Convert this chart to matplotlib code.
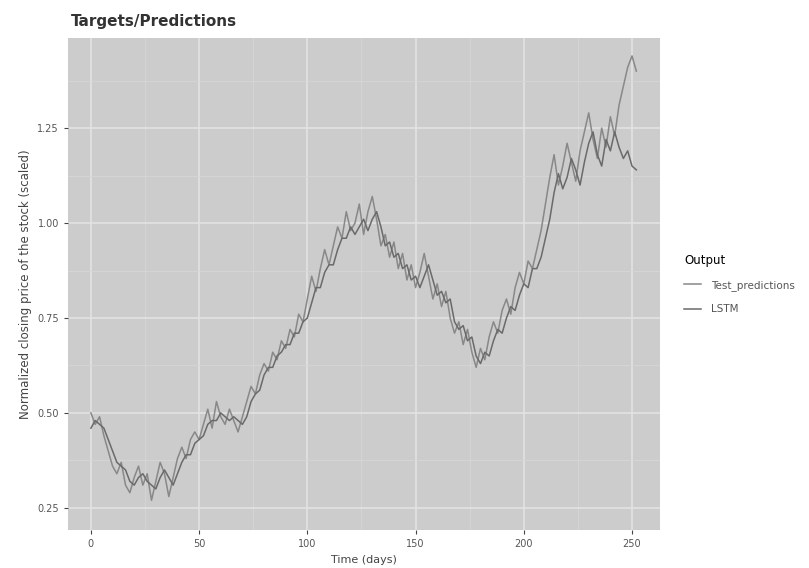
import matplotlib.pyplot as plt
import numpy as np

# ----------------------------------------
# Data
# ----------------------------------------
day = list(range(0, 253, 2))

target = [0.50, 0.47, 0.49, 0.44, 0.40, 0.36,
          0.34, 0.37, 0.31, 0.29, 0.33,
          0.36, 0.31, 0.34, 0.27, 0.32,
          0.37, 0.34, 0.28, 0.33, 0.38,
          0.41, 0.38, 0.43, 0.45, 0.43,
          0.47, 0.51, 0.46, 0.53, 0.49,
          0.47, 0.51, 0.48, 0.45, 0.49,
          0.53, 0.57, 0.55, 0.60, 0.63,
          0.61, 0.66, 0.64, 0.69, 0.67,
          0.72, 0.70, 0.76, 0.74, 0.80,
          0.86, 0.82, 0.88, 0.93, 0.89,
          0.94, 0.99, 0.96, 1.03, 0.98,
          1.00, 1.05, 0.97, 1.03, 1.07,
          1.01, 0.94, 0.97, 0.91, 0.95,
          0.88, 0.92, 0.85, 0.89, 0.83,
          0.87, 0.92, 0.86, 0.80, 0.84,
          0.78, 0.82, 0.75, 0.71, 0.74,
          0.68, 0.72, 0.66, 0.62, 0.67,
          0.64, 0.70, 0.74, 0.71, 0.77,
          0.80, 0.76, 0.83, 0.87, 0.84,
          0.90, 0.88, 0.93, 0.98, 1.05,
          1.12, 1.18, 1.10, 1.15, 1.21,
          1.16, 1.11, 1.19, 1.24, 1.29,
          1.22, 1.17, 1.25, 1.20, 1.28,
          1.23, 1.31, 1.36, 1.41, 1.44,
          1.40]

lstm = [0.46, 0.48, 0.47, 0.46, 0.43, 0.40,
        0.37, 0.36, 0.35, 0.32, 0.31,
        0.33, 0.34, 0.32, 0.31, 0.30,
        0.33, 0.35, 0.33, 0.31, 0.34,
        0.37, 0.39, 0.39, 0.42, 0.43,
        0.44, 0.47, 0.48, 0.48, 0.50,
        0.49, 0.48, 0.49, 0.48, 0.47,
        0.49, 0.53, 0.55, 0.56, 0.60,
        0.62, 0.62, 0.65, 0.66, 0.68,
        0.68, 0.71, 0.71, 0.74, 0.75,
        0.79, 0.83, 0.83, 0.87, 0.89,
        0.89, 0.93, 0.96, 0.96, 0.99,
        0.97, 0.99, 1.01, 0.98, 1.01,
        1.03, 0.99, 0.94, 0.95, 0.91,
        0.92, 0.88, 0.89, 0.85, 0.86,
        0.83, 0.86, 0.89, 0.85, 0.81,
        0.82, 0.79, 0.80, 0.74, 0.72,
        0.73, 0.69, 0.70, 0.65, 0.63,
        0.66, 0.65, 0.69, 0.72, 0.71,
        0.75, 0.78, 0.77, 0.81, 0.84,
        0.83, 0.88, 0.88, 0.91, 0.96,
        1.01, 1.08, 1.13, 1.09, 1.12,
        1.17, 1.14, 1.10, 1.16, 1.21,
        1.24, 1.18, 1.15, 1.22, 1.19,
        1.24, 1.20, 1.17, 1.19, 1.15,
        1.14]

x_ticks = [0, 50, 100, 150, 200, 250]
y_ticks = [0.25, 0.50, 0.75, 1.00, 1.25]
y_labels = ["0.25", "0.50", "0.75", "1.00", "1.25"]

# ----------------------------------------
# Figure (ggplot-like grey panel)
# ----------------------------------------
fig = plt.figure(figsize=(8.09, 5.68), dpi=100)
ax = fig.add_axes([0.084, 0.067, 0.732, 0.866])
ax.set_facecolor("#cccccc")
for s in ax.spines.values():
    s.set_visible(False)

ax.set_xticks(x_ticks)
ax.set_xticks([25, 75, 125, 175, 225], minor=True)
ax.set_yticks(y_ticks)
ax.set_yticks([0.375, 0.625, 0.875, 1.125, 1.375], minor=True)
ax.set_yticklabels(y_labels)
ax.grid(which="major", color="#e4e4e4", linewidth=1.1)
ax.grid(which="minor", color="#d6d6d6", linewidth=0.6)
ax.set_axisbelow(True)
ax.tick_params(which="both", length=3, color="#444444", labelsize=7, labelcolor="#555555")
ax.tick_params(which="minor", length=0)

ax.plot(day, target, color="#888888", linewidth=1.1, label="Test_predictions")
ax.plot(day, lstm, color="#6a6a6a", linewidth=1.1, label="LSTM")

ax.set_xlim(-10.6, 263)
ax.set_ylim(0.192, 1.487)

ax.set_xlabel("Time (days)", fontsize=8, color="#444444")
ax.set_ylabel("Normalized closing price of the stock (scaled)", fontsize=8.5, color="#444444")
fig.text(0.087, 0.963, "Targets/Predictions", fontsize=11, fontweight="bold", color="#333333",
         ha="left", va="center")

leg = ax.legend(loc="center left", bbox_to_anchor=(1.025, 0.5), frameon=False,
                title="Output", fontsize=7.5, title_fontsize=8.5,
                handlelength=1.6, labelspacing=1.3, handletextpad=1.0,
                labelcolor="#555555")
leg._legend_box.align = "left"

fig.savefig("out.png", dpi=100)
